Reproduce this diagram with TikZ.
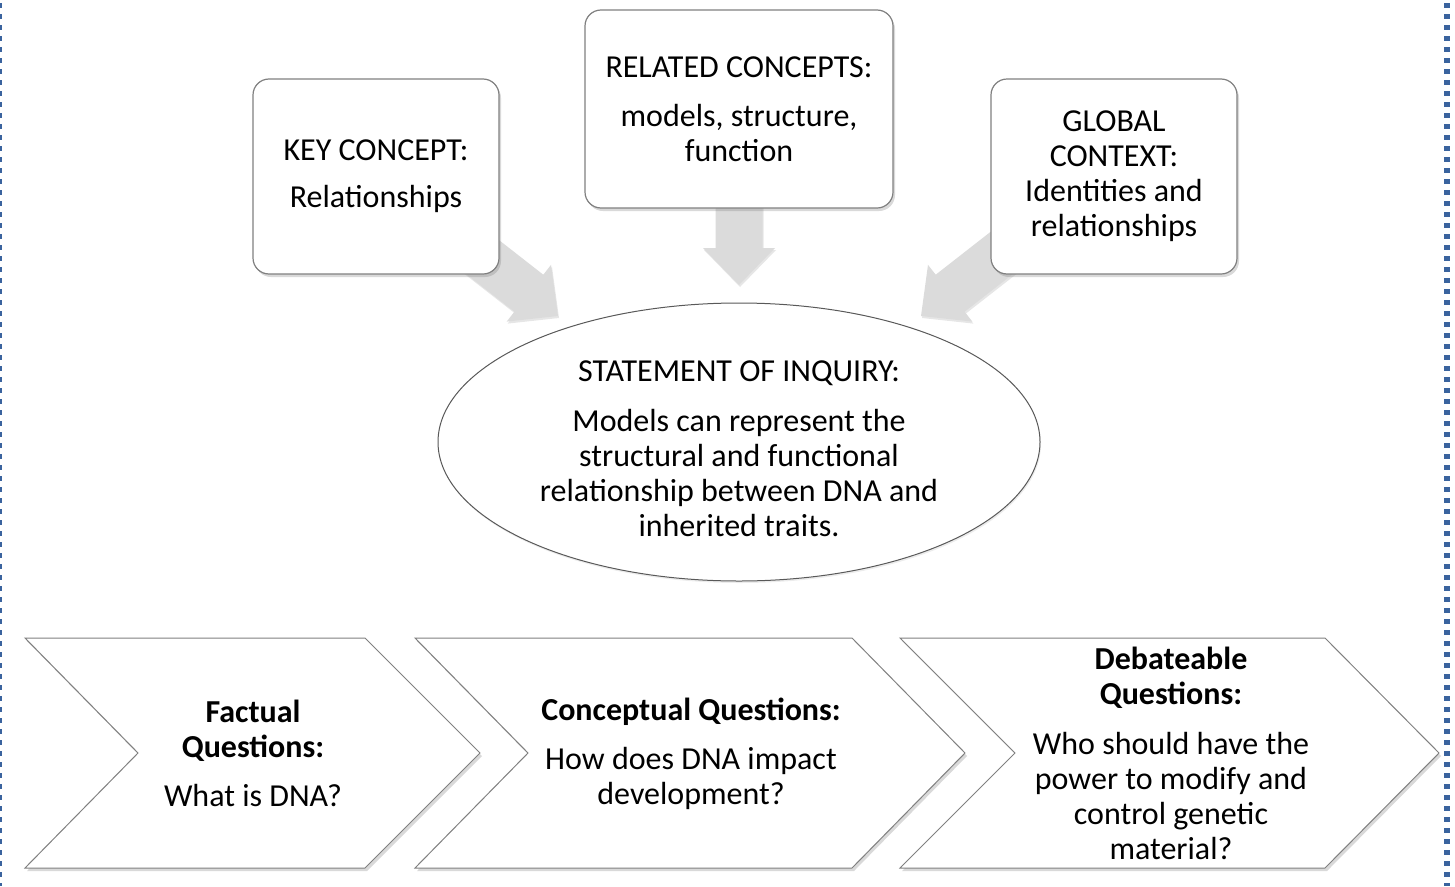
\documentclass[tikz,border=0pt]{standalone}
\usepackage{fontspec}
\setmainfont{Carlito}
\usetikzlibrary{shapes.geometric,shadows}

\definecolor{framegray}{RGB}{128,128,128}
\definecolor{arrowgray}{RGB}{219,219,219}
\definecolor{dotblue}{RGB}{58,99,158}

\begin{document}
\begin{tikzpicture}[x=1pt,y=-1pt,
    txt/.style={font=\fontsize{32}{35}\selectfont, align=center},
    softshadow/.style={drop shadow={shadow xshift=2pt, shadow yshift=-3pt, opacity=0.3}},
    concept/.style={txt, draw=framegray, line width=1.2pt, fill=white, rounded corners=16pt,
        minimum width=246pt, softshadow},
    inquiry/.style={ellipse, draw=black!65, line width=1pt, fill=white,
        minimum width=602pt, minimum height=278pt,
        drop shadow={shadow xshift=1pt, shadow yshift=-2pt, opacity=0.15}},
    chevron/.style={draw=framegray, line width=1pt, fill=white, softshadow},
    blockarrow/.style={fill=arrowgray, drop shadow={shadow xshift=1pt, shadow yshift=-2pt, opacity=0.2}},
    border/.style={dotblue, dash pattern=on 5pt off 6pt}]

    \useasboundingbox (0,0) rectangle (1455,886);

    % dotted frame left and right
    \draw[border, line width=2pt] (1,3) -- (1,886);
    \draw[border, line width=6pt] (1447,3) -- (1447,886);

    % block arrows into the statement
    \foreach \tipx/\tipy/\ang in {558/316/-38, 739/285/-90, 921/316/-142}
        \fill[blockarrow, shift={(\tipx,\tipy)}, rotate=\ang]
            (0,0) -- (-37,-36) -- (-37,-23.5) -- (-117,-23.5) -- (-117,23.5) -- (-37,23.5) -- (-37,36) -- cycle;

    % concept boxes
    \node[concept, minimum height=195pt] (key) at (376,176.5)
        {KEY CONCEPT:\\[12pt]Relationships};
    \node[concept, minimum width=308pt, minimum height=198pt] (related) at (739,109)
        {RELATED CONCEPTS:\\[14pt]models, structure,\\function};
    \node[concept, minimum height=195pt] (global) at (1114,176.5)
        {GLOBAL\\CONTEXT:\\Identities and\\relationships};

    % statement of inquiry
    \node[inquiry] (soi) at (739,442) {};
    \node[txt] (soitext) at (739,449)
        {STATEMENT OF INQUIRY:\\[15pt]Models can represent the\\structural and functional\\relationship between DNA and\\inherited traits.};

    % question chevrons
    \draw[chevron] (25,638) -- (365,638) -- (480,753) -- (365,868) -- (25,868) -- (138,753) -- cycle;
    \draw[chevron] (415,638) -- (852,638) -- (965,753) -- (852,868) -- (415,868) -- (528,753) -- cycle;
    \draw[chevron] (900,638) -- (1325,638) -- (1439,753) -- (1325,868) -- (900,868) -- (1015,753) -- cycle;

    \node[txt] (factual) at (253,753)
        {\textbf{Factual}\\\textbf{Questions:}\\[14pt]What is DNA?};
    \node[txt] (conceptual) at (691,754)
        {\textbf{Conceptual Questions:}\\[14pt]How does DNA impact\\development?};
    \node[txt] (debateable) at (1171,753)
        {\textbf{Debateable}\\\textbf{Questions:}\\[15pt]Who should have the\\power to modify and\\control genetic\\material?};

\end{tikzpicture}
\end{document}
